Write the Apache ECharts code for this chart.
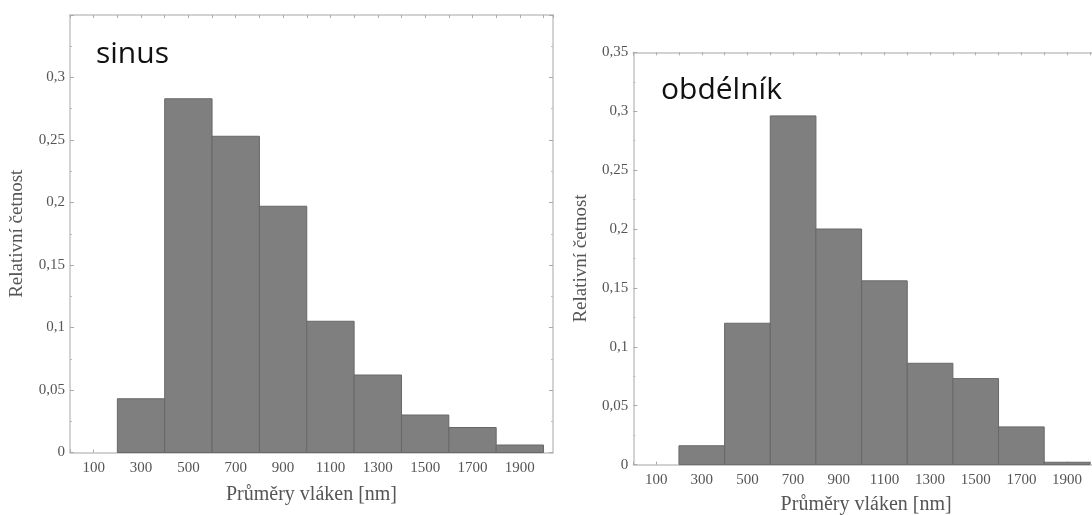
<!DOCTYPE html>
<html>
<head>
<meta charset="utf-8">
<script src="https://cdn.jsdelivr.net/npm/echarts@6/dist/echarts.min.js"></script>
<style>
  html, body { margin: 0; padding: 0; background: #fff; }
  #main { width: 1092px; height: 515px; }
</style>
</head>
<body>
<div id="main"></div>
<script>
// bin centres [nm], each bin is 200 nm wide
var binCentres = [100, 300, 500, 700, 900, 1100, 1300, 1500, 1700, 1900];
var sinusValues = [0, 0.043, 0.283, 0.253, 0.197, 0.105, 0.062, 0.030, 0.020, 0.006];
var obdelnikValues = [0, 0.016, 0.120, 0.296, 0.200, 0.156, 0.086, 0.073, 0.032, 0.002];
var binWidth = 200;

var chart = echarts.init(document.getElementById('main'));

var labelColor = '#555';
var frameColor = '#c4c4c4';
var serif = '"Liberation Serif", "Times New Roman", serif';

function toPairs(vals) {
    return binCentres.map(function (c, i) { return [c, vals[i]]; });
}

function renderBar(params, api) {
    var c = api.value(0), v = api.value(1);
    if (!v) return null;
    var p0 = api.coord([c - binWidth / 2, v]);
    var p1 = api.coord([c + binWidth / 2, 0]);
    return {
        type: 'rect',
        shape: { x: p0[0], y: p0[1], width: p1[0] - p0[0], height: p1[1] - p0[1] },
        style: { fill: '#7f7f7f', stroke: '#686868', lineWidth: 1 }
    };
}

function yFmt(v) {
    return v === 0 ? '0' : String(+v.toFixed(2)).replace('.', ',');
}

function xAxisFor(grid, top, nameGap) {
    return {
        type: 'value', gridIndex: grid, position: top ? 'top' : 'bottom',
        min: 0, max: 2040, interval: 100,
        axisLine: { show: true, onZero: false, lineStyle: { color: frameColor, width: 1.5 } },
        axisTick: { show: true, inside: true, length: 3, lineStyle: { color: '#aaa' } },
        axisLabel: {
            show: !top, margin: 8, color: labelColor, fontFamily: serif, fontSize: 15,
            showMaxLabel: false,
            formatter: function (v) { return v % 200 === 100 ? String(v) : ''; }
        },
        splitLine: { show: false },
        name: top ? '' : 'Průměry vláken [nm]',
        nameLocation: 'middle', nameGap: nameGap,
        nameTextStyle: { color: labelColor, fontFamily: serif, fontSize: 20 }
    };
}

function yAxisFor(grid, right, showTop) {
    return {
        type: 'value', gridIndex: grid, position: right ? 'right' : 'left',
        min: 0, max: 0.35, interval: 0.05,
        axisLine: { show: true, onZero: false, lineStyle: { color: frameColor, width: 1.5 } },
        axisTick: { show: true, inside: true, length: 4, lineStyle: { color: '#aaa' } },
        minorTick: { show: true, splitNumber: 2, length: 2, lineStyle: { color: '#bbb' } },
        axisLabel: {
            show: !right, margin: 5, color: labelColor, fontFamily: serif, fontSize: 15,
            showMaxLabel: showTop, formatter: yFmt
        },
        splitLine: { show: false },
        name: right ? '' : 'Relativní četnost',
        nameLocation: 'middle', nameGap: 43,
        nameTextStyle: { color: labelColor, fontFamily: serif, fontSize: 19 }
    };
}

chart.setOption({
    animation: false,
    title: [{
        text: 'sinus', left: 91, top: 34,
        textStyle: { fontFamily: '"Open Sans", sans-serif', fontSize: 30, fontWeight: 'normal', color: '#111' }
    }, {
        text: 'obdélník', left: 656, top: 70,
        textStyle: { fontFamily: '"Open Sans", sans-serif', fontSize: 30, fontWeight: 'normal', color: '#111' }
    }],
    grid: [
        { left: 70, right: 539, top: 15, bottom: 62.5, outerBoundsMode: 'none' },
        { left: 633.3, right: -7, top: 52.3, bottom: 50.4, outerBoundsMode: 'none' }
    ],
    xAxis: [xAxisFor(0, false, 32), xAxisFor(0, true, 0),
            xAxisFor(1, false, 30), xAxisFor(1, true, 0)],
    yAxis: [yAxisFor(0, false, false), yAxisFor(0, true, false),
            yAxisFor(1, false, true), yAxisFor(1, true, true)],
    series: [{
        type: 'custom', name: 'sinus', xAxisIndex: 0, yAxisIndex: 0,
        renderItem: renderBar, data: toPairs(sinusValues)
    }, {
        type: 'custom', name: 'obdélník', xAxisIndex: 2, yAxisIndex: 2,
        renderItem: renderBar, data: toPairs(obdelnikValues)
    }]
});
</script>
</body>
</html>
